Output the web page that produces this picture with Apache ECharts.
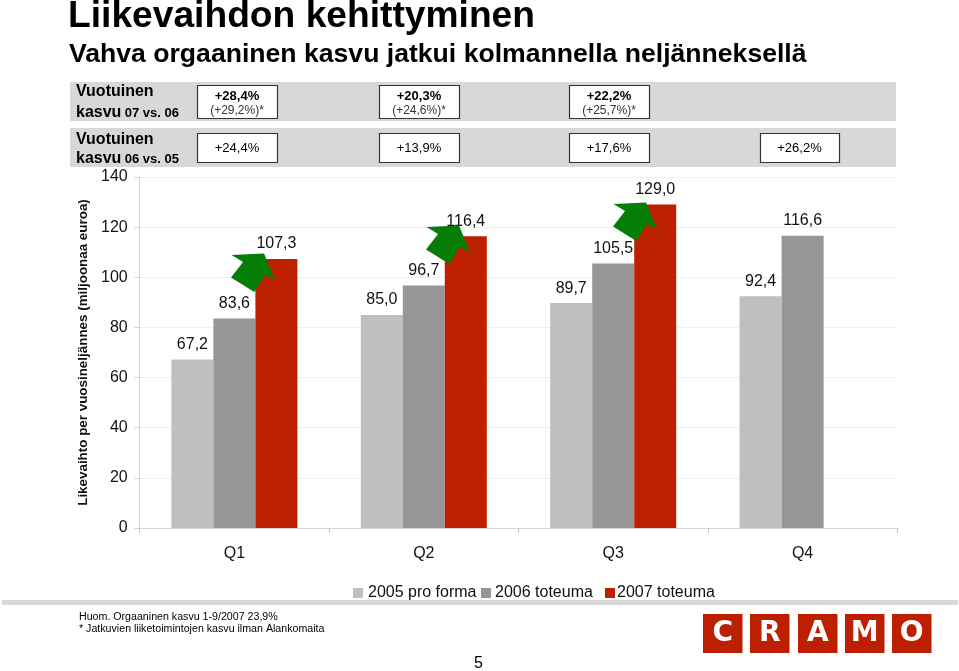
<!DOCTYPE html>
<html>
<head>
<meta charset="utf-8">
<style>html,body{margin:0;padding:0;background:#fff}#c{width:959px;height:671px}</style>
<script src="https://cdn.jsdelivr.net/npm/echarts@6/dist/echarts.min.js"></script>
</head>
<body>
<div id="c"></div>
<script>
const categories = ['Q1','Q2','Q3','Q4'];
const s2005 = [67.2, 85.0, 89.7, 92.4];
const s2006 = [83.6, 96.7, 105.5, 116.6];
const s2007 = [107.3, 116.4, 129.0, null];
const growth0706 = ['+28,4%','+20,3%','+22,2%'];
const growth0706Adj = ['(+29,2%)*','(+24,6%)*','(+25,7%)*'];
const growth0605 = ['+24,4%','+13,9%','+17,6%','+26,2%'];
const seriesNames = ['2005 pro forma','2006 toteuma','2007 toteuma'];
const logoLetters = ['C','R','A','M','O'];

const FONT = '"Liberation Sans", Arial, sans-serif';
const C05 = '#bfbfbf', C06 = '#969696', C07 = '#bd2000', GREEN = '#067d06', BAND = '#d8d8d8';
const boxX = [197, 379, 569, 760];
const boxW = [80, 80, 80, 79];
const logoX = [703, 750, 798, 845, 892];

const el = [];
const txt = (x, y, text, size, extra) => el.push({type:'text', z:5, x, y, style:Object.assign({
  text, fontFamily:FONT, fontSize:size, fill:'#000', textVerticalAlign:'middle'}, extra||{})});

txt(68, 17, 'Liikevaihdon kehittyminen', 37.2, {fontWeight:'bold'});
txt(69, 54.5, 'Vahva orgaaninen kasvu jatkui kolmannella neljänneksellä', 26.6, {fontWeight:'bold'});

[[82,39],[128,39]].forEach(b => el.push({type:'rect', z:1, shape:{x:70,y:b[0],width:826,height:b[1]}, style:{fill:BAND}}));
el.push({type:'rect', z:1, shape:{x:2,y:600,width:956,height:5}, style:{fill:BAND}});

txt(76, 92, 'Vuotuinen', 16, {fontWeight:'bold'});
el.push({type:'text', z:5, x:76, y:113, style:{text:'{a|kasvu} {b|07 vs. 06}', fontFamily:FONT, textVerticalAlign:'middle',
  rich:{a:{fontFamily:FONT,fontSize:16,fontWeight:'bold',fill:'#000'},b:{fontFamily:FONT,fontSize:13,fontWeight:'bold',fill:'#000'}}}});
txt(76, 140, 'Vuotuinen', 16, {fontWeight:'bold'});
el.push({type:'text', z:5, x:76, y:159, style:{text:'{a|kasvu} {b|06 vs. 05}', fontFamily:FONT, textVerticalAlign:'middle',
  rich:{a:{fontFamily:FONT,fontSize:16,fontWeight:'bold',fill:'#000'},b:{fontFamily:FONT,fontSize:13,fontWeight:'bold',fill:'#000'}}}});

growth0706.forEach((g,i) => {
  el.push({type:'rect', z:2, shape:{x:boxX[i]+.5,y:85.5,width:boxW[i],height:33}, style:{fill:'#fff',stroke:'#333',lineWidth:1.2}});
  txt(boxX[i]+boxW[i]/2, 96, g, 13, {fontWeight:'bold', textAlign:'center'});
  txt(boxX[i]+boxW[i]/2, 111, growth0706Adj[i], 12, {textAlign:'center', fill:'#333'});
});
growth0605.forEach((g,i) => {
  el.push({type:'rect', z:2, shape:{x:boxX[i]+.5,y:133.5,width:boxW[i],height:29}, style:{fill:'#fff',stroke:'#333',lineWidth:1.2}});
  txt(boxX[i]+boxW[i]/2, 148, g, 13, {textAlign:'center'});
});

[[0,0],[195,-28],[382,-51]].forEach(d => el.push({type:'polygon', z:20, x:d[0], y:d[1],
  shape:{points:[[231.5,255],[264,253.5],[275,280],[265,275],[254.3,292],[231,277.5],[243,262]]}, style:{fill:GREEN}}));

txt(79, 617, 'Huom. Orgaaninen kasvu 1-9/2007 23,9%', 10.65);
txt(79, 629, '* Jatkuvien liiketoimintojen kasvu ilman Alankomaita', 10.65);
txt(474, 664, '5', 16);

logoLetters.forEach((l,i) => {
  el.push({type:'rect', z:2, shape:{x:logoX[i],y:614,width:39.5,height:39}, style:{fill:'#bd2000'}});
  txt(logoX[i]+19.75, 634, l, 28, {fontWeight:'bold', fill:'#fff', textAlign:'center', fontFamily:'"DejaVu Sans", sans-serif'});
});

const barSeries = (name, data, color) => ({
  name, type:'bar', data, barWidth:42, barGap:0, itemStyle:{color},
  label:{show:true, position:'top', distance:7, fontFamily:FONT, fontSize:16, color:'#111',
    formatter:p => p.value == null ? '' : p.value.toFixed(1).replace('.',',')}
});
const legendItem = (name, left, gapFix) => ({
  data:[name], left, top:585, padding:0, itemWidth:10, itemHeight:10, itemGap:0, icon:'rect',
  textStyle:{fontFamily:FONT, fontSize:16, color:'#111', padding:[0,0,0,gapFix]}
});

const chart = echarts.init(document.getElementById('c'), null, {renderer:'canvas'});
chart.setOption({
  animation:false,
  backgroundColor:'#fff',
  grid:{left:139.7, right:61.7, top:177, bottom:143},
  legend:[legendItem(seriesNames[0],353,0), legendItem(seriesNames[1],481,-1), legendItem(seriesNames[2],605,-3)],
  xAxis:{type:'category', data:categories,
    axisLine:{lineStyle:{color:'#d4d4d4'}},
    axisTick:{show:true, alignWithLabel:false, length:5, lineStyle:{color:'#c4c4c4'}},
    axisLabel:{fontFamily:FONT, fontSize:16, color:'#111', margin:18}},
  yAxis:{type:'value', min:0, max:140, interval:20,
    name:'Likevaihto per vuosineljännes (miljoonaa euroa)', nameLocation:'middle', nameGap:49, nameRotate:90,
    nameTextStyle:{fontFamily:FONT, fontSize:13.4, fontWeight:'bold', color:'#111'},
    axisLine:{show:true, lineStyle:{color:'#d4d4d4'}},
    axisTick:{show:true, length:5, lineStyle:{color:'#d4d4d4'}},
    splitLine:{lineStyle:{color:'#f0f0f0'}},
    axisLabel:{fontFamily:FONT, fontSize:16, color:'#111', margin:12}},
  series:[barSeries(seriesNames[0],s2005,C05), barSeries(seriesNames[1],s2006,C06), barSeries(seriesNames[2],s2007,C07)],
  graphic:el
});
</script>
</body>
</html>
